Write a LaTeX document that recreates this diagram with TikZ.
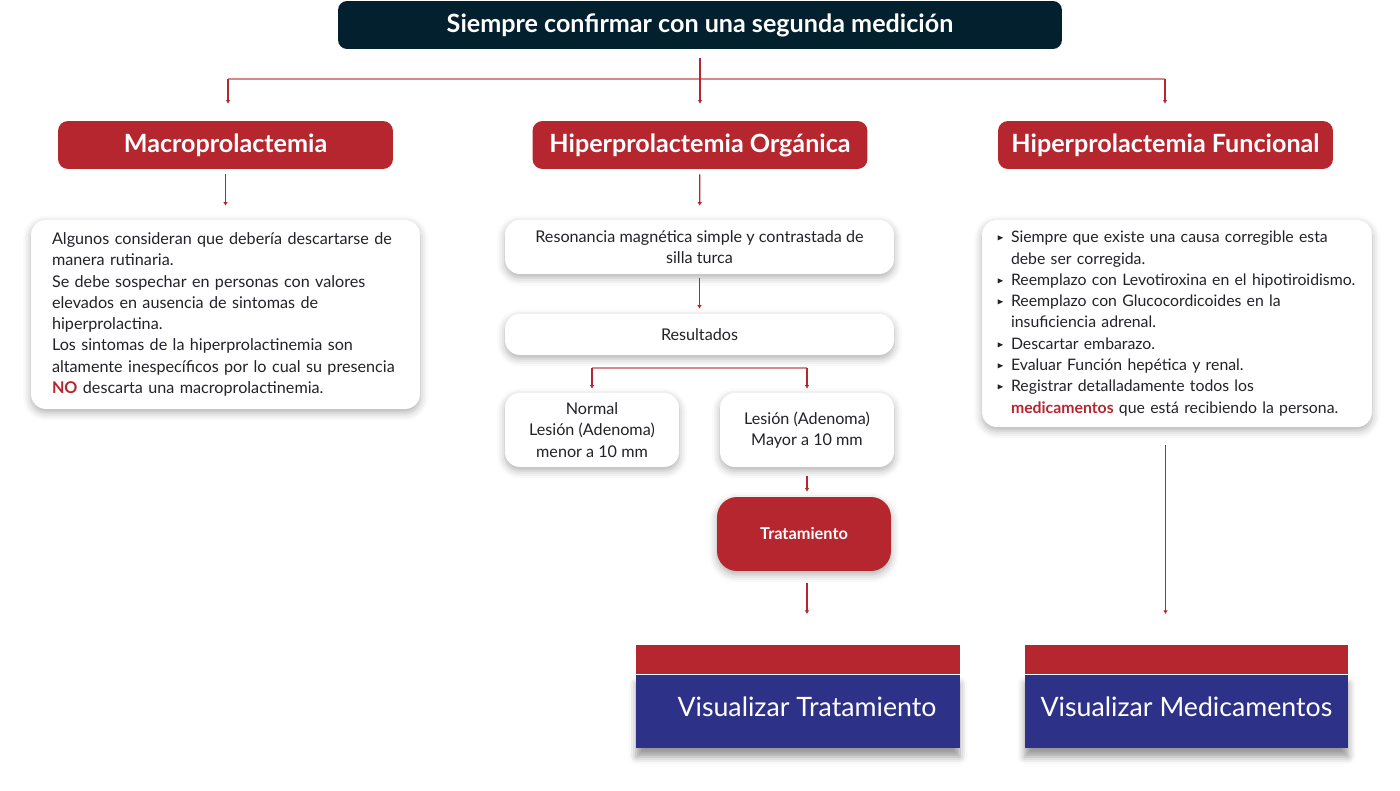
\documentclass[tikz,border=0pt]{standalone}
\usepackage{fontspec,amssymb}
\setmainfont{Lato}
\usetikzlibrary{arrows.meta,positioning,shadows.blur}
\definecolor{rojo}{HTML}{B6262F}
\definecolor{noche}{HTML}{03202E}
\definecolor{azul}{HTML}{2E3188}
\definecolor{tinta}{HTML}{222228}
\newcommand\vin{\makebox[0.28cm][l]{\raisebox{0.25ex}{\scalebox{0.55}{$\blacktriangleright$}}}}
\newcommand\sang{\hspace*{0.28cm}}

\begin{document}
\begin{tikzpicture}[x=0.02cm, y=-0.02cm,
        >={Latex[length=2pt,width=2.6pt]},
        flecha/.style={->, rojo, line width=0.7pt},
        raya/.style={rojo!55, line width=1.1pt},
        sombra/.style={blur shadow={shadow xshift=0pt, shadow yshift=-2pt, shadow blur radius=4.5pt, shadow opacity=32}},
        titulo/.style={fill=noche, rounded corners=0.18cm, text=white, minimum width=14.48cm, minimum height=0.96cm, font=\bfseries\fontsize{14.3}{17}\selectfont},
        cabecera/.style={fill=rojo, rounded corners=0.2cm, text=white, minimum width=6.7cm, minimum height=0.96cm, font=\bfseries\fontsize{14.3}{17}\selectfont},
        caja/.style={fill=white, rounded corners=0.3cm, sombra, text=tinta, align=center, font=\fontsize{9.2}{12.1}\selectfont},
        tratam/.style={fill=rojo, rounded corners=0.4cm, sombra, text=white, minimum width=3.48cm, minimum height=1.48cm, font=\bfseries\fontsize{9.3}{11}\selectfont},
        boton/.style={fill=azul, minimum width=6.48cm, minimum height=1.46cm, inner sep=0pt, text=white, font=\fontsize{15.2}{18}\selectfont, blur shadow={shadow xshift=0pt, shadow yshift=-5pt, shadow blur radius=4pt, shadow opacity=40}},
        franja/.style={fill=rojo, minimum width=6.48cm, minimum height=0.58cm, inner sep=0pt}]
    \useasboundingbox (0,0) rectangle (1400,791);

    \node[titulo] (titulo) at (700,25) {Siempre confirmar con una segunda medición};

    \node[cabecera] (macro) at (225.5,145) {Macroprolactemia};
    \node[cabecera] (organica) at (700,145) {Hiperprolactemia Orgánica};
    \node[cabecera] (funcional) at (1165.5,145) {Hiperprolactemia Funcional};

    \coordinate (izq) at (228,79);
    \coordinate (der) at (1165,79);
    \draw[raya] (izq) -- (der);
    \draw[flecha, shorten >=0.34cm] (izq) -- (izq |- macro.north);
    \draw[flecha, shorten >=0.34cm] (der) -- (der |- funcional.north);
    \draw[flecha, shorten <=0.18cm, shorten >=0.34cm] (titulo) -- (organica);

    \node[caja, align=left, text width=6.94cm, inner xsep=0.42cm, minimum height=3.78cm] (nota) at (225.5,314.5) {Algunos consideran que debería descartarse de\\
        manera rutinaria.\\
        Se debe sospechar en personas con valores\\
        elevados en ausencia de sintomas de\\
        hiperprolactina.\\
        Los sintomas de la hiperprolactinemia son\\
        altamente inespecíficos por lo cual su presencia\\
        \textcolor{rojo}{\bfseries NO} descarta una macroprolactinemia.};

    \node[caja, minimum width=7.78cm, minimum height=1.08cm] (resonancia) at (699.5,247) {Resonancia magnética simple y contrastada de\\ silla turca};
    \node[caja, minimum width=7.78cm, minimum height=0.82cm] (resultados) at (699.5,334.5) {Resultados};
    \node[caja, minimum width=3.48cm, minimum height=1.48cm] (normal) at (592,430) {Normal\\ Lesión (Adenoma)\\ menor a 10 mm};
    \node[caja, minimum width=3.48cm, minimum height=1.48cm] (lesion) at (807,430) {Lesión (Adenoma)\\ Mayor a 10 mm};
    \node[tratam] (tratamiento) at (804,534) {Tratamiento};

    \node[caja, align=left, text width=7.2cm, inner xsep=0.3cm, minimum height=4.14cm, font=\fontsize{9}{12.1}\selectfont] (derecha) at (1177,323.5) {\vin Siempre que existe una causa corregible esta\\
        \sang debe ser corregida.\\
        \vin Reemplazo con Levotiroxina en el hipotiroidismo.\\
        \vin Reemplazo con Glucocordicoides en la\\
        \sang insuficiencia adrenal.\\
        \vin Descartar embarazo.\\
        \vin Evaluar Función hepética y renal.\\
        \vin Registrar detalladamente todos los\\
        \sang \textcolor{rojo}{\bfseries medicamentos} que está recibiendo la persona.};

    \draw[flecha, shorten <=0.1cm, shorten >=0.28cm] (macro) -- (nota);
    \draw[flecha, shorten <=0.1cm, shorten >=0.28cm] (organica) -- (resonancia);
    \draw[flecha, shorten <=0.08cm, shorten >=0.1cm] (resonancia) -- (resultados);

    \coordinate (rizq) at (592,368);
    \coordinate (rder) at (807,368);
    \draw[raya] (rizq) -- (rder);
    \draw[flecha, shorten >=0.08cm] (rizq) -- (normal);
    \draw[flecha, shorten >=0.08cm] (rder) -- (lesion);
    \draw[flecha, shorten <=0.18cm, shorten >=0.1cm] (lesion.south) -- (lesion.south |- tratamiento.north);

    \node[boton] (btntrat) at (798,711.5) {\hspace*{0.36cm}\raisebox{0.18cm}{Visualizar Tratamiento}};
    \node[franja, above=0pt of btntrat] (btntratsup) {};
    \node[boton] (btnmed) at (1186.5,711.5) {\raisebox{0.18cm}{Visualizar Medicamentos}};
    \node[franja, above=0pt of btnmed] (btnmedsup) {};

    \draw[flecha, shorten <=0.24cm, shorten >=0.62cm] (lesion.south |- tratamiento.south) -- (lesion.south |- btntratsup.north);
    \draw[flecha, shorten <=0.36cm, shorten >=0.62cm] (funcional.south |- derecha.south) -- (funcional.south |- btnmedsup.north);
\end{tikzpicture}
\end{document}
